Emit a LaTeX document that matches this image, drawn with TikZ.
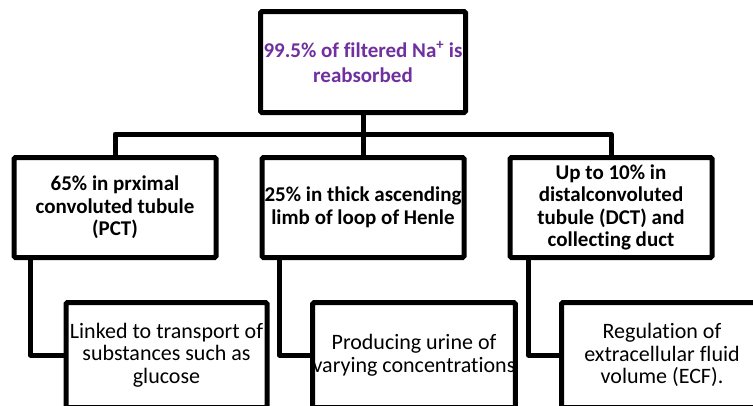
\documentclass[tikz,border=0pt]{standalone}
\usepackage{fontspec}
\setmainfont{Carlito}[RawFeature={-liga}]
\definecolor{purp}{RGB}{112,48,160}
\begin{document}
\begin{tikzpicture}[x=1pt,y=-1pt,
  box/.style={draw=black,line width=5pt,rounded corners=1.5pt,fill=white,align=center,inner sep=0pt,
    font=\fontsize{22}{22.5}\selectfont},
  headbox/.style={box,minimum width=205pt,minimum height=101pt,text=purp,font=\fontsize{21}{25}\selectfont\bfseries},
  midbox/.style={box,minimum width=202pt,minimum height=100pt,font=\fontsize{21}{22.5}\selectfont\bfseries},
  lowbox/.style={box,minimum width=201pt,minimum height=105pt},
  conn/.style={line width=5pt,line join=round}]
\useasboundingbox (0,0) rectangle (753,405);
\node[headbox] (top) at (363,62) {99.5\% of filtered Na\textsuperscript{+} is\\reabsorbed};
\node[midbox] (L1) at (115,207.5) {65\% in prximal\\convoluted tubule\\(PCT)};
\node[midbox] (M1) at (363,207.5) {25\% in thick ascending\\limb of loop of Henle};
\node[midbox] (R1) at (611,207.5) {Up to 10\% in\\distalconvoluted\\tubule (DCT) and\\collecting duct};
\coordinate (bus) at (0,134);
\draw[conn] (top.south) -- (M1.north);
\draw[conn] (L1.north) -- (L1.north |- bus) -- (R1.north |- bus) -- (R1.north);
\node[lowbox] (L2) at (166.5,355) {Linked to transport of\\substances such as\\glucose};
\node[lowbox] (M2) at (414,355) {Producing urine of\\varying concentrations};
\node[lowbox] (R2) at (662,355) {Regulation of\\extracellular fluid\\volume (ECF).};
\draw[conn] (L1.south west) ++(19,0) |- (L2.west);
\draw[conn] (M1.south west) ++(20,0) |- (M2.west);
\draw[conn] (R1.south west) ++(21,0) |- (R2.west);
\end{tikzpicture}
\end{document}
